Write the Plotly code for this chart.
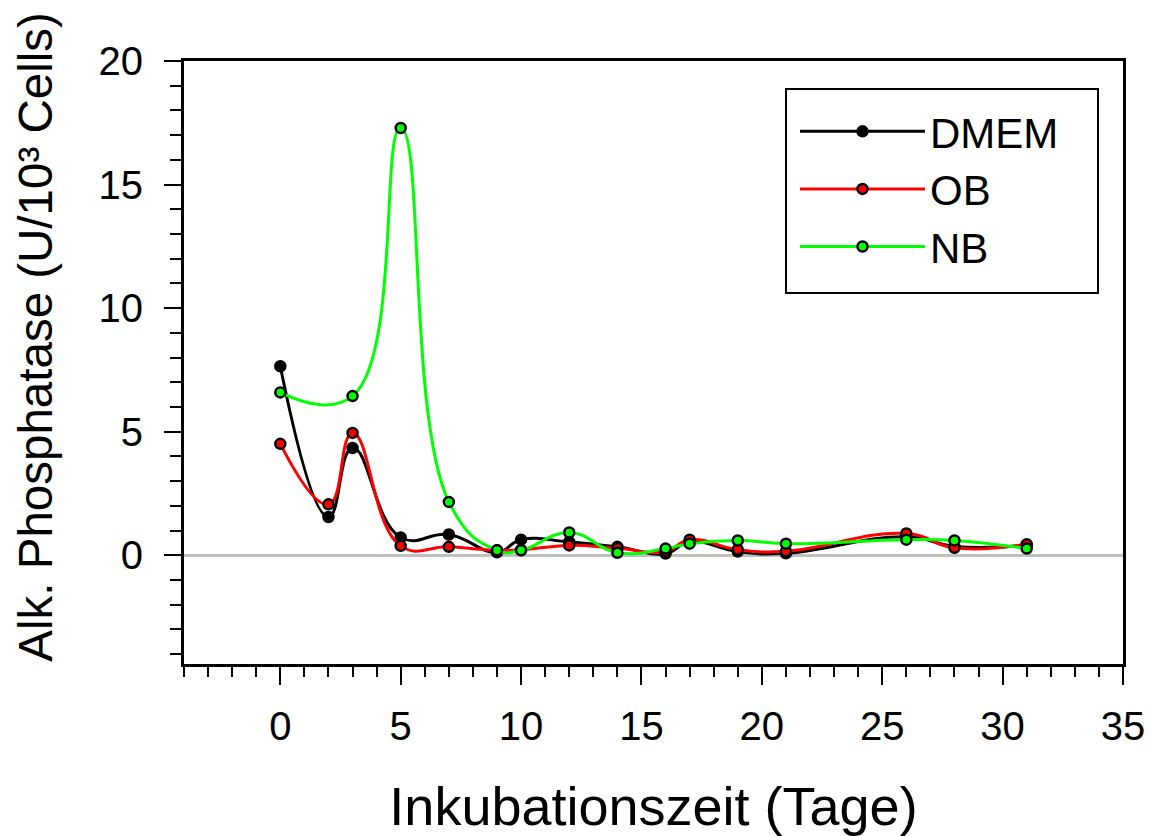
import plotly.graph_objects as go

# ---- data ----
days_dmem = [0, 2, 3, 5, 7, 9, 10, 12, 14, 16, 17, 19, 21, 26, 28, 31]
dmem = [7.65, 1.55, 4.34, 0.72, 0.84, 0.12, 0.63, 0.54, 0.34, 0.07, 0.55, 0.15, 0.08, 0.75, 0.36, 0.40]

days_ob = [0, 2, 3, 5, 7, 9, 10, 12, 14, 16, 17, 19, 21, 26, 28, 31]
ob = [4.51, 2.06, 4.95, 0.38, 0.34, 0.20, 0.22, 0.40, 0.28, 0.15, 0.63, 0.23, 0.16, 0.88, 0.30, 0.45]

days_nb = [0, 3, 5, 7, 9, 10, 12, 14, 16, 17, 19, 21, 26, 28, 31]
nb = [6.59, 6.44, 17.29, 2.16, 0.20, 0.20, 0.92, 0.10, 0.27, 0.47, 0.60, 0.47, 0.63, 0.60, 0.27]

series_names = ["DMEM", "OB", "NB"]
series_colors = ["#000000", "#ff0000", "#00ff00"]

x_title = "Inkubationszeit (Tage)"
y_title = "Alk. Phosphatase (U/10³ Cells)"

FONT = "Arial, 'Liberation Sans', sans-serif"

fig = go.Figure()
for name, xs, ys, col in zip(series_names, [days_dmem, days_ob, days_nb], [dmem, ob, nb], series_colors):
    fig.add_trace(go.Scatter(
        x=xs, y=ys, name=name, mode="lines+markers",
        line=dict(color=col, width=3, shape="spline", smoothing=1.3),
        marker=dict(size=10, color=col, line=dict(color="black", width=2.5)),
    ))

axis_common = dict(
    showline=True, linecolor="black", linewidth=3, mirror=True,
    showgrid=False, ticks="outside", tickcolor="black", tickwidth=2,
    tickfont=dict(family=FONT, size=40, color="black"),
    automargin=False,
)

fig.update_xaxes(
    **axis_common,
    range=[-4, 35], tick0=0, dtick=5, ticklen=18, zeroline=False,
    ticklabelstandoff=7,
    minor=dict(dtick=1, ticklen=10, tickwidth=2, tickcolor="black", ticks="outside"),
    title=dict(text=x_title, font=dict(family=FONT, size=54, color="black"), standoff=41),
)
fig.update_yaxes(
    **axis_common,
    range=[-4.4, 20], tick0=0, dtick=5, ticklen=17,
    zeroline=True, zerolinecolor="#c0c0c0", zerolinewidth=2.5,
    ticklabelstandoff=13,
    minor=dict(dtick=1, ticklen=11, tickwidth=2, tickcolor="black", ticks="outside"),
)

# y-axis title (placed slightly above the plot centre, as in the reference)
fig.add_annotation(
    text=y_title, textangle=-90, showarrow=False,
    xref="paper", yref="paper", x=-0.158, y=0.5423,
    xanchor="center", yanchor="middle",
    font=dict(family=FONT, size=47.5, color="black"),
)

# legend frame
fig.add_shape(
    type="rect", xref="paper", yref="paper",
    x0=0.6411, x1=0.9734, y0=0.6153, y1=0.9536,
    line=dict(color="black", width=2), fillcolor="white", layer="below",
)

fig.update_layout(
    template="none",
    width=1156, height=836,
    margin=dict(l=176, r=41, t=53, b=180, pad=0),
    paper_bgcolor="white", plot_bgcolor="white",
    showlegend=True,
    legend=dict(
        x=0.6507, y=0.7877, xanchor="left", yanchor="middle",
        bgcolor="rgba(0,0,0,0)", borderwidth=0,
        font=dict(family=FONT, size=42, color="black"),
        itemwidth=125, tracegroupgap=0,
    ),
)

fig.write_html("out.html")
